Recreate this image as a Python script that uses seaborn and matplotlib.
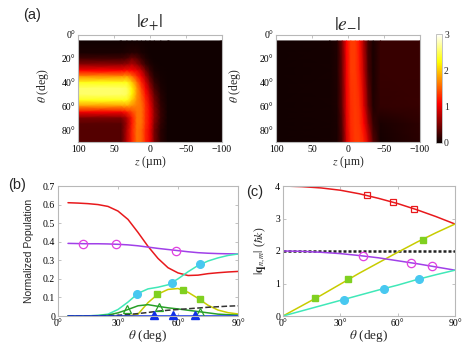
import numpy as np
import matplotlib
matplotlib.use("Agg")
import matplotlib.pyplot as plt
import seaborn as sns

# ─────────────────────────────────────────────────────────────
#  Data
# ─────────────────────────────────────────────────────────────

# (a) left map |e+| : rows = theta (deg), cols = z (um)
theta_ep = [5, 15, 20, 25, 30, 35, 40, 45, 50, 55, 60, 65, 70, 75, 80, 90]
z_ep     = [100, 40, 32, 25, 18, 12, 6, 0, -6, -15, -25, -100]
e_plus = [
    [0.03, 0.03, 0.03, 0.03, 0.03, 0.03, 0.03, 0.03, 0.03, 0.03, 0.03, 0.03],
    [0.08, 0.08, 0.10, 0.12, 0.12, 0.08, 0.05, 0.03, 0.03, 0.03, 0.03, 0.03],
    [0.25, 0.25, 0.30, 0.45, 0.35, 0.20, 0.10, 0.05, 0.03, 0.03, 0.03, 0.03],
    [0.60, 0.60, 0.65, 0.75, 0.60, 0.40, 0.20, 0.10, 0.05, 0.03, 0.03, 0.03],
    [1.10, 1.10, 1.15, 1.10, 1.00, 0.80, 0.45, 0.20, 0.08, 0.04, 0.03, 0.03],
    [1.75, 1.75, 1.80, 1.60, 1.30, 1.05, 0.70, 0.35, 0.12, 0.05, 0.03, 0.03],
    [2.30, 2.30, 2.30, 2.00, 1.60, 1.25, 0.90, 0.50, 0.20, 0.06, 0.03, 0.03],
    [2.55, 2.55, 2.50, 2.20, 1.75, 1.40, 1.05, 0.65, 0.30, 0.09, 0.03, 0.03],
    [2.55, 2.55, 2.50, 2.20, 1.75, 1.50, 1.15, 0.80, 0.40, 0.12, 0.03, 0.03],
    [2.30, 2.30, 2.30, 2.00, 1.70, 1.55, 1.25, 0.90, 0.50, 0.15, 0.03, 0.03],
    [1.75, 1.75, 1.80, 1.70, 1.65, 1.60, 1.30, 1.00, 0.55, 0.18, 0.03, 0.03],
    [1.05, 1.05, 1.20, 1.40, 1.60, 1.60, 1.30, 1.05, 0.60, 0.20, 0.03, 0.03],
    [0.50, 0.50, 0.75, 1.20, 1.60, 1.60, 1.30, 1.05, 0.60, 0.20, 0.03, 0.03],
    [0.35, 0.35, 0.70, 1.20, 1.60, 1.60, 1.30, 1.05, 0.55, 0.18, 0.03, 0.03],
    [0.33, 0.33, 0.75, 1.25, 1.60, 1.55, 1.25, 1.00, 0.50, 0.15, 0.03, 0.03],
    [0.33, 0.33, 0.80, 1.25, 1.60, 1.55, 1.25, 1.00, 0.50, 0.15, 0.03, 0.03],
]

# (a) right map |e-|
theta_em = [5, 30, 60, 75, 90]
z_em     = [100, 25, 15, 8, 2, -4, -10, -16, -22, -28, -35, -45, -100]
e_minus = [
    [0.04, 0.05, 0.10, 0.50, 1.10, 1.35, 1.35, 1.15, 0.70, 0.25, 0.08, 0.20, 0.20],
    [0.04, 0.05, 0.10, 0.45, 1.05, 1.35, 1.35, 1.20, 0.80, 0.30, 0.08, 0.20, 0.20],
    [0.04, 0.05, 0.09, 0.40, 1.00, 1.30, 1.35, 1.30, 0.95, 0.45, 0.10, 0.18, 0.20],
    [0.04, 0.05, 0.08, 0.35, 0.95, 1.28, 1.35, 1.32, 1.10, 0.65, 0.20, 0.08, 0.16],
    [0.04, 0.05, 0.08, 0.30, 0.90, 1.25, 1.35, 1.35, 1.25, 0.90, 0.35, 0.05, 0.15],
]

# (b) normalized populations vs theta
theta_pop  = [5, 10, 15, 20, 25, 30, 35, 40, 45, 50, 55, 60, 65, 70, 75, 80, 85, 90]
pop_red    = [0.61, 0.608, 0.605, 0.60, 0.59, 0.565, 0.52, 0.45, 0.375, 0.31, 0.26, 0.232,
              0.218, 0.22, 0.228, 0.233, 0.237, 0.24]
pop_purple = [0.391, 0.390, 0.389, 0.389, 0.388, 0.386, 0.383, 0.378, 0.371, 0.364, 0.358,
              0.352, 0.346, 0.341, 0.338, 0.336, 0.335, 0.334]
pop_cyan   = [0, 0, 0.001, 0.003, 0.01, 0.035, 0.075, 0.122, 0.146, 0.155, 0.168, 0.2,
              0.238, 0.272, 0.296, 0.313, 0.326, 0.334]
pop_yellow = [0, 0, 0, 0, 0, 0, 0, 0.01, 0.072, 0.118, 0.143, 0.148, 0.128, 0.095, 0.058,
              0.032, 0.018, 0.011]
pop_green  = [0, 0, 0.001, 0.002, 0.005, 0.017, 0.035, 0.055, 0.061, 0.052, 0.044, 0.038,
              0.031, 0.024, 0.017, 0.010, 0.007, 0.005]
pop_black  = [0, 0, 0, 0.001, 0.002, 0.004, 0.008, 0.013, 0.019, 0.026, 0.031, 0.035,
              0.039, 0.043, 0.047, 0.050, 0.053, 0.055]
pop_blue   = [0] * 18

mk_purple_t, mk_purple_v = [12.7, 29.2, 59.2], [0.389, 0.387, 0.352]
mk_cyan_t,   mk_cyan_v   = [39.6, 57.2, 70.9], [0.120, 0.180, 0.278]
mk_yellow_t, mk_yellow_v = [49.6, 62.7, 70.9], [0.117, 0.138, 0.090]
mk_green_t,  mk_green_v  = [34.5, 50.5, 70.9], [0.036, 0.051, 0.023]
mk_blue_t,   mk_blue_v   = [48.0, 57.5, 68.6], [0.006, 0.006, 0.006]

# (c) momentum magnitudes vs theta
theta_q  = [0, 10, 20, 30, 40, 50, 60, 70, 80, 90]
q_red    = [4.00, 3.98, 3.94, 3.87, 3.76, 3.62, 3.46, 3.27, 3.06, 2.83]
q_yellow = [0, 0.32, 0.64, 0.98, 1.32, 1.64, 1.96, 2.27, 2.56, 2.83]
q_purple = [2.00, 1.99, 1.96, 1.92, 1.86, 1.79, 1.70, 1.61, 1.51, 1.41]
q_cyan   = [0, 0.16, 0.32, 0.48, 0.64, 0.80, 0.95, 1.12, 1.27, 1.41]
q_black  = [2.0] * 10

mq_red_t,    mq_red_v    = [44.0, 57.5, 68.5], [3.72, 3.50, 3.29]
mq_yellow_t, mq_yellow_v = [17.0, 34.0, 73.0], [0.56, 1.14, 2.35]
mq_purple_t, mq_purple_v = [42.0, 67.0, 78.0], [1.84, 1.64, 1.53]
mq_cyan_t,   mq_cyan_v   = [32.0, 53.0, 71.0], [0.50, 0.84, 1.14]

# ─────────────────────────────────────────────────────────────
#  Style
# ─────────────────────────────────────────────────────────────
sns.set_style("ticks")
plt.rcParams["font.family"] = ["Liberation Serif", "DejaVu Serif"]
plt.rcParams["mathtext.fontset"] = "stix"
plt.rcParams["xtick.direction"] = "in"
plt.rcParams["ytick.direction"] = "in"

W, H = 463, 346
SPINE = "#b8b8b8"
C_RED, C_PURPLE, C_MAGENTA = "#e8191c", "#a040e8", "#e040e0"
C_CYAN, C_SKY = "#40e8b8", "#48c8f0"
C_YEL, C_LIME = "#c8cc00", "#80d020"
C_GREEN, C_BLUE = "#28a028", "#1030e8"


def px_axes(fig, x0, y0, x1, y1):
    """add axes from pixel box (top-left origin)"""
    return fig.add_axes([x0 / W, 1 - y1 / H, (x1 - x0) / W, (y1 - y0) / H])


def style_frame(ax):
    for s in ax.spines.values():
        s.set_color(SPINE)
        s.set_linewidth(0.8)
    ax.tick_params(colors=SPINE, labelcolor="black", labelsize=7, length=2.5,
                   width=0.6, top=True, right=True, pad=2)


fig = plt.figure(figsize=(W / 100, H / 100), dpi=100)

# ─────────────────────────────────────────────────────────────
#  (a) field maps
# ─────────────────────────────────────────────────────────────
maps = [
    (78, z_ep, theta_ep, e_plus, r"$|e_{+}|$", -0.19),
    (276, z_em, theta_em, e_minus, r"$|e_{-}|$", -0.23),
]
for x0, zs, ts, vals, title, ylab_x in maps:
    ax = px_axes(fig, x0, 35, x0 + 144, 142)
    Z, T = np.meshgrid(zs, ts)
    mesh = ax.pcolormesh(Z, T, np.array(vals), shading="gouraud", cmap="hot",
                         vmin=0, vmax=3, rasterized=True)
    ax.set_xlim(100, -100)
    ax.set_ylim(90, 0)
    ax.set_xticks([100, 50, 0, -50, -100])
    ax.set_xticklabels(["100", "50", "0", "\u221250", "\u2212100"])
    ax.set_yticks([0, 20, 40, 60, 80])
    ax.set_yticklabels(["0\u00b0", "20\u00b0", "40\u00b0", "60\u00b0", "80\u00b0"])
    style_frame(ax)
    ax.set_title(title, fontsize=14, pad=5)
    ax.set_xlabel("$z$ (\u00b5m)", fontsize=8.5, labelpad=0)
    ax.set_ylabel(r"$\theta$ (deg)", fontsize=8.5)
    ax.yaxis.set_label_coords(ylab_x, 0.53)

cax = px_axes(fig, 436, 34, 442, 143)
cb = fig.colorbar(mesh, cax=cax, ticks=[0, 1, 2, 3])
cb.outline.set_edgecolor(SPINE)
cb.outline.set_linewidth(0.6)
cax.tick_params(labelsize=7, length=0, pad=1.5)

# ─────────────────────────────────────────────────────────────
#  (b) populations
# ─────────────────────────────────────────────────────────────
axb = px_axes(fig, 58, 186, 238, 316)
lines_b = [
    (pop_red, C_RED, "-"), (pop_purple, C_PURPLE, "-"), (pop_cyan, C_CYAN, "-"),
    (pop_yellow, C_YEL, "-"), (pop_green, C_GREEN, "-"), (pop_black, "#333333", "--"),
    (pop_blue, C_BLUE, "-"),
]
for vals, col, ls in lines_b:
    sns.lineplot(x=theta_pop, y=vals, ax=axb, color=col, lw=1.1, linestyle=ls,
                 sort=False)

axb.plot(mk_purple_t, mk_purple_v, "o", ms=6, mfc="none", mec=C_MAGENTA, mew=0.9)
axb.plot(mk_cyan_t, mk_cyan_v, "o", ms=5.5, mfc=C_SKY, mec=C_SKY)
axb.plot(mk_yellow_t, mk_yellow_v, "s", ms=4.8, mfc=C_LIME, mec=C_LIME)
axb.plot(mk_green_t, mk_green_v, "^", ms=5.5, mfc="none", mec=C_GREEN, mew=0.9)
axb.plot(mk_blue_t, mk_blue_v, "^", ms=6, mfc=C_BLUE, mec=C_BLUE, clip_on=False)

axb.set_xlim(0, 90)
axb.set_ylim(0, 0.7)
axb.set_xticks([0, 30, 60, 90])
axb.set_xticklabels(["0\u00b0", "30\u00b0", "60\u00b0", "90\u00b0"])
axb.set_yticks([0, 0.1, 0.2, 0.3, 0.4, 0.5, 0.6, 0.7])
axb.set_yticklabels(["0", "0.1", "0.2", "0.3", "0.4", "0.5", "0.6", "0.7"])
style_frame(axb)
axb.set_xlabel(r"$\theta$ (deg)", fontsize=9.5, labelpad=1)
axb.xaxis.set_label_coords(0.5, -0.09)
axb.set_ylabel("Normalized Population", fontsize=7.5,
               family=["Liberation Sans", "DejaVu Sans"])
axb.yaxis.set_label_coords(-0.135, 0.5)

# ─────────────────────────────────────────────────────────────
#  (c) momentum transfer
# ─────────────────────────────────────────────────────────────
axc = px_axes(fig, 283, 186, 455, 316)
lines_c = [
    (q_black, "#222222", (0, (1.2, 0.8)), 1.8), (q_red, C_RED, "-", 1.1),
    (q_yellow, C_YEL, "-", 1.1), (q_purple, C_PURPLE, "-", 1.1),
    (q_cyan, C_CYAN, "-", 1.1),
]
for vals, col, ls, lw in lines_c:
    sns.lineplot(x=theta_q, y=vals, ax=axc, color=col, lw=lw, linestyle=ls, sort=False)

axc.plot(mq_red_t, mq_red_v, "s", ms=5, mfc="none", mec=C_RED, mew=0.9)
axc.plot(mq_yellow_t, mq_yellow_v, "s", ms=5, mfc=C_LIME, mec=C_LIME)
axc.plot(mq_purple_t, mq_purple_v, "o", ms=6, mfc="none", mec=C_MAGENTA, mew=0.9)
axc.plot(mq_cyan_t, mq_cyan_v, "o", ms=5.5, mfc=C_SKY, mec=C_SKY)

axc.set_xlim(0, 90)
axc.set_ylim(0, 4)
axc.set_xticks([0, 30, 60, 90])
axc.set_xticklabels(["0\u00b0", "30\u00b0", "60\u00b0", "90\u00b0"])
axc.set_yticks([0, 1, 2, 3, 4])
style_frame(axc)
axc.set_xlabel(r"$\theta$ (deg)", fontsize=9.5, labelpad=1)
axc.xaxis.set_label_coords(0.5, -0.09)
axc.set_ylabel(r"$|\mathbf{q}_{n,m}|$ ($\hbar k$)", fontsize=8.5)
axc.yaxis.set_label_coords(-0.09, 0.5)

# panel letters
for txt, x, y in [("(a)", 32, 15), ("(b)", 17, 185), ("(c)", 255, 192)]:
    fig.text(x / W, 1 - y / H, txt, fontsize=10.5, ha="center", va="center",
             family=["Liberation Sans", "DejaVu Sans"])

fig.savefig("out.png", dpi=100)
